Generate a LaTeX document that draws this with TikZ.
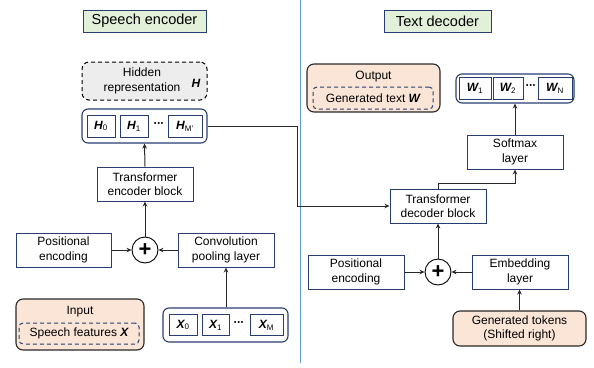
\documentclass[tikz,border=0pt]{standalone}
\usepackage{fontspec}
\setmainfont{Liberation Sans}
\usetikzlibrary{arrows.meta}

\definecolor{boxblue}{RGB}{40,62,115}
\definecolor{titlegreen}{RGB}{226,240,217}
\definecolor{peach}{RGB}{251,229,214}
\definecolor{hidgray}{RGB}{237,237,237}
\definecolor{divblue}{RGB}{91,155,213}
\definecolor{wire}{RGB}{40,40,40}

\newcommand{\bv}[2]{{\bfseries\itshape #1}\textsubscript{#2}}
\newcommand{\rowdots}{{\bfseries\textperiodcentered\kern-0.6pt\textperiodcentered\kern-0.6pt\textperiodcentered}}

\tikzset{
  txt/.style={font=\fontsize{12}{14.5}\selectfont, align=center, inner sep=0pt},
  title/.style={txt, font=\fontsize{14.5}{16}\selectfont, draw=boxblue, line width=1pt,
    fill=titlegreen, minimum height=22pt},
  block/.style={txt, draw=boxblue, line width=1pt, fill=white, minimum width=96pt,
    minimum height=34pt},
  cell/.style={txt, draw=boxblue, line width=0.9pt, minimum height=22pt},
  row/.style={draw=boxblue, line width=1.1pt, rounded corners=6pt, inner sep=0pt},
  inout/.style={draw=wire, line width=1.1pt, fill=peach, rounded corners=7pt, inner sep=0pt},
  dashbox/.style={txt, draw=boxblue, dash pattern=on 4pt off 3pt, line width=1pt,
    rounded corners=4pt},
  plus/.style={circle, draw=black, line width=0.9pt, minimum size=26pt, inner sep=0pt,
    font=\fontsize{22}{22}\selectfont\bfseries},
  arr/.style={draw=wire, line width=1pt, -{Stealth[length=5pt,width=4.5pt]}},
}

\begin{document}
\begin{tikzpicture}[x=1pt, y=-1pt]
\useasboundingbox (0,0) rectangle (594,367);

% divider
\draw[divblue, line width=1pt] (300,0) -- (300,363);

% Speech encoder
\node[title, minimum width=123pt] (enctitle) at (144.5,21) {Speech encoder};

\node[txt, draw=black, dash pattern=on 4pt off 3pt, line width=1pt, fill=hidgray,
  rounded corners=7pt, minimum width=125pt, minimum height=38pt] (hidden) at (144.5,81) {};
\node[txt] (hiddentxt) at (142,81) {Hidden\\representation};
\node[txt] (hiddenH) at (196,83) {\bfseries\itshape H};

\node[row, minimum width=125pt, minimum height=34pt] (hrow) at (144.5,126) {};
\node[cell, minimum width=28pt] (h0) at (101,126) {\bv{H}{0}};
\node[cell, minimum width=28pt] (h1) at (134,126) {\bv{H}{1}};
\node[txt] (hdots) at (159,125) {\rowdots};
\node[cell, minimum width=34pt] (hm) at (185,126) {\bv{H}{M'}};

\node[block] (encblock) at (145,184) {Transformer\\encoder block};
\node[block, minimum width=95pt] (encpos) at (63.5,250) {Positional\\encoding};
\node[plus] (encplus) at (145,250) {+};
\node[block] (conv) at (226,250) {Convolution\\pooling layer};

\node[row, minimum width=125pt, minimum height=34pt] (xrow) at (225.5,325) {};
\node[cell, minimum width=28pt, minimum height=21pt] (x0) at (183,325) {\bv{X}{0}};
\node[cell, minimum width=27pt, minimum height=21pt] (x1) at (215.5,325) {\bv{X}{1}};
\node[txt] (xdots) at (239,324) {\rowdots};
\node[cell, minimum width=33pt, minimum height=21pt] (xm) at (266.5,325) {\bv{X}{M}};

\node[inout, minimum width=128pt, minimum height=51pt] (input) at (80,324.5) {};
\node[txt] (inputtxt) at (80,312) {Input};
\node[dashbox, minimum width=120pt, minimum height=21pt] (speechfeat) at (79,333.5)
  {Speech features {\bfseries\itshape X}};

\draw[arr] (encblock.north) -- (hrow.south);
\draw[arr] (encplus.north) -- (encblock.south);
\draw[arr] (encpos.east) -- (encplus.west);
\draw[arr] (conv.west) -- (encplus.east);
\draw[arr] (xrow.north -| conv.south) -- (conv.south);

% Text decoder
\node[title, minimum width=107pt] (dectitle) at (437.5,21) {Text decoder};

\node[inout, minimum width=133pt, minimum height=48pt] (output) at (373.5,88) {};
\node[txt] (outputtxt) at (373.5,77) {Output};
\node[dashbox, minimum width=120pt, minimum height=22pt] (gentext) at (373,98)
  {Generated text {\bfseries\itshape W}};

\node[row, minimum width=118pt, minimum height=29pt] (wrow) at (515,88.5) {};
\node[cell, minimum width=32pt] (w1) at (475,88) {\bv{W}{1}};
\node[cell, minimum width=30pt] (w2) at (508,88) {\bv{W}{2}};
\node[txt] (wdots) at (531,87) {\rowdots};
\node[cell, minimum width=34pt] (wn) at (555,88) {\bv{W}{N}};

\node[block] (softmax) at (515,152) {Softmax\\layer};
\node[block] (decblock) at (438,206) {Transformer\\decoder block};
\node[block] (decpos) at (356,272) {Positional\\encoding};
\node[plus] (decplus) at (438,272) {+};
\node[block] (embed) at (520,272) {Embedding\\layer};
\node[inout, txt, minimum width=133pt, minimum height=35pt] (tokens) at (519.5,328.5)
  {Generated tokens\\(Shifted right)};

\coordinate (encbend) at (297,126);
\coordinate (decbend) at (438,183);
\draw[arr] (hrow.east) -- (encbend) |- (decblock.west);
\draw[arr] (decblock.north) -- (decbend) -| (softmax.south);
\draw[arr] (softmax.north) -- (wrow.south -| softmax.north);
\draw[arr] (decplus.north) -- (decblock.south);
\draw[arr] (decpos.east) -- (decplus.west);
\draw[arr] (embed.west) -- (decplus.east);
\draw[arr] (tokens.north) -- (tokens.north |- embed.south);
\end{tikzpicture}
\end{document}
